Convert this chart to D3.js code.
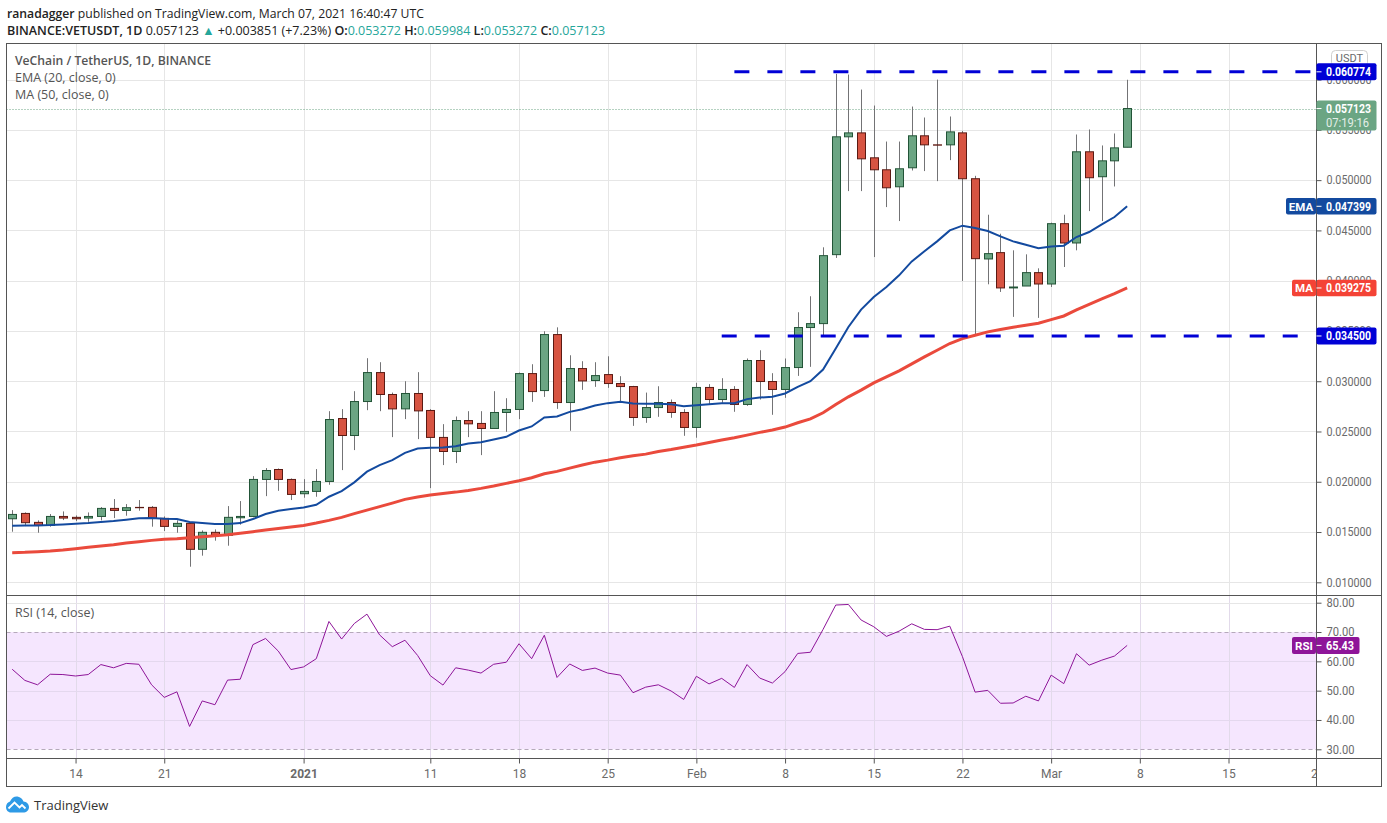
<!DOCTYPE html>
<html>
<head>
<meta charset="utf-8">
<title>VETUSDT</title>
<script src="https://cdn.jsdelivr.net/npm/d3@7"></script>
<style>
  html, body { margin: 0; padding: 0; background: #fff; }
  svg { display: block; }
  text { font-family: "Open Sans", sans-serif; }
  .axis text { font-family: Roboto, sans-serif; font-size: 12px; fill: #6a6a6a; }
  .axis path { display: none; }
  .axis line { stroke: #555; }
</style>
</head>
<body>
<div id="chart"></div>
<script>
// Candles, one a day from 9 Dec 2020 to 7 Mar 2021
var startDate = "2020-12-09";

var opens = [
  0.01632, 0.01685, 0.01596, 0.01566, 0.01655, 0.01646, 0.01639, 0.01655, 0.01735, 0.01715,
  0.01745, 0.01745, 0.01636, 0.01556, 0.01586, 0.01328, 0.01497, 0.01467, 0.01642, 0.01655,
  0.02023, 0.02122, 0.02023, 0.01881, 0.01904, 0.02003, 0.02629, 0.0246, 0.02798, 0.03086,
  0.02868, 0.02725, 0.02878, 0.02709, 0.02441, 0.02301, 0.02609, 0.0258, 0.0253, 0.02689,
  0.02719, 0.03076, 0.02907, 0.03464, 0.02788, 0.03126, 0.03007, 0.03066, 0.02977, 0.02947,
  0.02639, 0.02738, 0.02788, 0.02689, 0.0254, 0.02938, 0.02818, 0.02918, 0.02769, 0.03206,
  0.02997, 0.02918, 0.03136, 0.03534, 0.03573, 0.04259, 0.05431, 0.0547, 0.05222, 0.05103,
  0.04934, 0.05123, 0.05441, 0.05351, 0.05351, 0.0547, 0.05014, 0.04216, 0.04279, 0.03928,
  0.03947, 0.0408, 0.03967, 0.04567, 0.04375, 0.05282, 0.05034, 0.05192, 0.053272,
];
var closes = [
  0.01675, 0.01593, 0.01566, 0.01655, 0.01639, 0.01632, 0.01655, 0.01735, 0.01715, 0.01742,
  0.01742, 0.01636, 0.01556, 0.01586, 0.01328, 0.01497, 0.01467, 0.01646, 0.01655, 0.02023,
  0.02112, 0.02023, 0.01874, 0.01904, 0.02003, 0.02619, 0.0246, 0.02798, 0.03086, 0.02868,
  0.02725, 0.02878, 0.02705, 0.02441, 0.02301, 0.02609, 0.02576, 0.0253, 0.02689, 0.02719,
  0.03076, 0.02897, 0.03464, 0.02788, 0.03126, 0.03003, 0.03056, 0.02977, 0.02947, 0.02639,
  0.02738, 0.02788, 0.02689, 0.0254, 0.02938, 0.02818, 0.02918, 0.02769, 0.03206, 0.02997,
  0.02918, 0.03136, 0.03534, 0.03573, 0.04249, 0.05431, 0.0547, 0.05212, 0.05103, 0.04924,
  0.05113, 0.05441, 0.05351, 0.05348, 0.0548, 0.05014, 0.04219, 0.04269, 0.03928, 0.03937,
  0.0408, 0.03967, 0.04567, 0.04375, 0.05282, 0.05024, 0.05192, 0.05321, 0.057123,
];
var highs = [
  0.01718, 0.01695, 0.01616, 0.01679, 0.01705, 0.01665, 0.01695, 0.01748, 0.01828, 0.01778,
  0.01818, 0.01758, 0.01655, 0.01616, 0.01599, 0.01516, 0.01526, 0.01758, 0.01808, 0.02056,
  0.02136, 0.02132, 0.02033, 0.02026, 0.02126, 0.02702, 0.02722, 0.02901, 0.03229, 0.03189,
  0.02887, 0.03, 0.0309, 0.02722, 0.02573, 0.02649, 0.02702, 0.02702, 0.02901, 0.02831,
  0.03086, 0.03169, 0.03497, 0.03536, 0.03258, 0.03199, 0.03189, 0.03248, 0.0305, 0.02954,
  0.02887, 0.0295, 0.02818, 0.02722, 0.02984, 0.02971, 0.0303, 0.02951, 0.03226, 0.03308,
  0.0308, 0.03226, 0.03686, 0.03845, 0.04332, 0.06057, 0.0605, 0.05901, 0.05742, 0.05384,
  0.05384, 0.05732, 0.05623, 0.06, 0.05633, 0.0549, 0.05043, 0.04656, 0.04467, 0.04302,
  0.04262, 0.04123, 0.04577, 0.04656, 0.05454, 0.05504, 0.05345, 0.05464, 0.059984,
];
var lows = [
  0.01503, 0.01559, 0.01493, 0.01553, 0.01619, 0.01609, 0.01602, 0.01616, 0.01639, 0.01662,
  0.01712, 0.01553, 0.0151, 0.01493, 0.01155, 0.01265, 0.01414, 0.01364, 0.01573, 0.01646,
  0.01857, 0.0191, 0.01818, 0.01841, 0.01851, 0.0197, 0.02116, 0.02315, 0.02712, 0.02702,
  0.02444, 0.02623, 0.02424, 0.01937, 0.02166, 0.02186, 0.02444, 0.02265, 0.02527, 0.02497,
  0.02623, 0.02795, 0.02844, 0.02725, 0.02507, 0.02914, 0.02944, 0.02934, 0.02795, 0.02556,
  0.02586, 0.02646, 0.02636, 0.02457, 0.02438, 0.02772, 0.02785, 0.02696, 0.02755, 0.02818,
  0.02666, 0.02835, 0.03053, 0.03143, 0.03454, 0.04226, 0.04891, 0.04891, 0.04235, 0.04732,
  0.04593, 0.05096, 0.0509, 0.0499, 0.05199, 0.03997, 0.03454, 0.03964, 0.03888, 0.0364,
  0.03947, 0.0363, 0.03937, 0.04136, 0.04302, 0.04692, 0.04593, 0.04937, 0.053272,
];

var ema20 = [
  0.01563, 0.01566, 0.01566, 0.01569, 0.01576, 0.01583, 0.01589, 0.01599, 0.01609, 0.01622,
  0.01636, 0.01639, 0.01632, 0.01629, 0.01599, 0.01589, 0.01579, 0.01579, 0.01589, 0.01629,
  0.01679, 0.01712, 0.01728, 0.01745, 0.01771, 0.01851, 0.01907, 0.01994, 0.021, 0.02166,
  0.02215, 0.02288, 0.02331, 0.02338, 0.02341, 0.02354, 0.02381, 0.02394, 0.02421, 0.02447,
  0.0251, 0.0255, 0.02639, 0.02649, 0.02695, 0.02722, 0.02758, 0.02782, 0.02795, 0.02778,
  0.02775, 0.02775, 0.02772, 0.02752, 0.02762, 0.02772, 0.02782, 0.02782, 0.02822, 0.02838,
  0.02845, 0.02878, 0.02944, 0.03001, 0.03116, 0.03325, 0.0354, 0.03712, 0.03838, 0.03937,
  0.04053, 0.04192, 0.04292, 0.04391, 0.045, 0.04547, 0.04524, 0.04494, 0.04441, 0.04391,
  0.04358, 0.04322, 0.04341, 0.04348, 0.04434, 0.04484, 0.0456, 0.04633, 0.047399,
];
var ma50 = [
  0.01295, 0.01298, 0.01305, 0.01311, 0.01321, 0.01334, 0.01348, 0.01361, 0.01374, 0.01391,
  0.01404, 0.01417, 0.01427, 0.01434, 0.01444, 0.01454, 0.01463, 0.01473, 0.01487, 0.01503,
  0.0152, 0.01536, 0.0155, 0.01566, 0.01589, 0.01616, 0.01646, 0.01683, 0.01718, 0.01753,
  0.01788, 0.01825, 0.01848, 0.01868, 0.01884, 0.01897, 0.01914, 0.01934, 0.01957, 0.01984,
  0.0201, 0.0204, 0.0208, 0.02103, 0.02136, 0.02166, 0.02195, 0.02215, 0.02238, 0.02258,
  0.02275, 0.02301, 0.02321, 0.02344, 0.02365, 0.02391, 0.02415, 0.02438, 0.02464, 0.02491,
  0.02514, 0.02544, 0.02587, 0.02626, 0.02686, 0.02769, 0.02845, 0.02911, 0.02984, 0.03044,
  0.03103, 0.03173, 0.03242, 0.03308, 0.03375, 0.03424, 0.03457, 0.03491, 0.03514, 0.03537,
  0.03557, 0.03577, 0.03613, 0.03649, 0.03709, 0.03765, 0.03818, 0.03871, 0.039275,
];
var rsi14 = [
  57.3, 53.5, 52.0, 55.6, 55.5, 55.0, 55.5, 58.9, 57.8, 59.3,
  59.0, 52.0, 47.7, 49.6, 37.8, 46.5, 45.2, 53.6, 53.9, 65.7,
  67.8, 63.5, 57.2, 58.1, 60.9, 73.6, 67.6, 72.9, 76.1, 69.0,
  65.0, 67.2, 62.0, 55.1, 51.9, 57.8, 57.0, 56.0, 59.0, 59.7,
  66.0, 60.9, 68.9, 54.5, 59.1, 56.9, 57.7, 56.0, 55.3, 49.3,
  51.2, 52.0, 49.9, 47.0, 54.9, 52.3, 54.2, 51.1, 58.9, 54.3,
  52.6, 56.5, 62.7, 63.1, 70.9, 79.2, 79.4, 74.1, 71.8, 68.5,
  70.3, 72.8, 70.9, 70.8, 72.0, 61.6, 49.5, 50.1, 45.7, 45.8,
  48.1, 46.5, 55.3, 52.4, 62.6, 58.7, 60.4, 61.8, 65.43,
];

// Axis ticks
var priceTicks = [0.01, 0.015, 0.02, 0.025, 0.03, 0.035, 0.04, 0.045, 0.05, 0.055, 0.06];
var rsiTicks = [30, 40, 50, 60, 70, 80];
var tickDates = [
  "2020-12-14", "2020-12-21", "2021-01-01", "2021-01-11", "2021-01-18", "2021-01-25", "2021-02-01",
  "2021-02-08", "2021-02-15", "2021-02-22", "2021-03-01", "2021-03-08", "2021-03-15", "2021-03-22",
];
var tickLabels = ["14", "21", "2021", "11", "18", "25", "Feb", "8", "15", "22", "Mar", "8", "15", "22"];

// Horizontal levels drawn on the chart
var levelValues = [0.060774, 0.0345];
var levelLabels = ["0.060774", "0.034500"];
var levelStarts = ["2021-02-04", "2021-02-03"];
var levelEnds = ["2021-03-22", "2021-03-21"];

var svgWidth = 1387;
var svgHeight = 823;

var pane = { left: 6.5, right: 1316.5, top: 43.5, split: 595.5, bottom: 758.5, end: 786.5, outer: 1381.5 };

var upColor = "#6ba583";
var downColor = "#d75442";
var upBorder = "#225437";
var downBorder = "#5b1a13";
var emaColor = "#134a9f";
var maColor = "#ea4a3c";
var rsiColor = "#8e1599";
var levelColor = "#0000d6";
var gridColor = "#e6e6e6";

var parseDay = d3.utcParse("%Y-%m-%d");
var dates = opens.map((d, i) => d3.utcDay.offset(parseDay(startDate), i));

var xScale = d3
  .scaleUtc()
  .domain([parseDay(startDate), parseDay("2021-03-22")])
  .range([12.2, 1317.2]);
var yPrice = d3.scaleLinear().domain([0.01, 0.06]).range([582.3, 79.6]);
var yRsi = d3.scaleLinear().domain([30, 80]).range([749.3, 602.7]);

var svg = d3.select("#chart").append("svg").attr("width", svgWidth).attr("height", svgHeight);

var defs = svg.append("defs");
defs
  .append("clipPath")
  .attr("id", "main-clip")
  .append("rect")
  .attr("x", pane.left)
  .attr("y", pane.top)
  .attr("width", pane.right - pane.left)
  .attr("height", pane.split - pane.top);
defs
  .append("clipPath")
  .attr("id", "time-clip")
  .append("rect")
  .attr("x", pane.left)
  .attr("y", pane.bottom)
  .attr("width", pane.right - pane.left)
  .attr("height", pane.end - pane.bottom);

// RSI band goes under the grid
svg
  .append("rect")
  .attr("x", pane.left)
  .attr("width", pane.right - pane.left)
  .attr("y", yRsi(70))
  .attr("height", yRsi(30) - yRsi(70))
  .attr("fill", "#f5e6fe");

// Grid lines
var tickDays = tickDates.map(parseDay);
var grid = svg.append("g").attr("stroke", gridColor).attr("stroke-width", 1);
grid
  .selectAll(".v-main")
  .data(tickDays.slice(0, 13))
  .enter()
  .append("line")
  .attr("x1", (d) => Math.round(xScale(d)) + 0.5)
  .attr("x2", (d) => Math.round(xScale(d)) + 0.5)
  .attr("y1", pane.top)
  .attr("y2", pane.split);
grid
  .selectAll(".v-rsi")
  .data(tickDays.slice(0, 13))
  .enter()
  .append("line")
  .attr("x1", (d) => Math.round(xScale(d)) + 0.5)
  .attr("x2", (d) => Math.round(xScale(d)) + 0.5)
  .attr("y1", pane.split)
  .attr("y2", pane.bottom)
  .attr("stroke", "#e2daea");
grid
  .selectAll(".h-main")
  .data(priceTicks)
  .enter()
  .append("line")
  .attr("x1", pane.left)
  .attr("x2", pane.right)
  .attr("y1", (d) => Math.round(yPrice(d)) + 0.5)
  .attr("y2", (d) => Math.round(yPrice(d)) + 0.5);
grid
  .selectAll(".h-rsi")
  .data(rsiTicks.filter((d) => d !== 30 && d !== 70))
  .enter()
  .append("line")
  .attr("x1", pane.left)
  .attr("x2", pane.right)
  .attr("y1", (d) => Math.round(yRsi(d)) + 0.5)
  .attr("y2", (d) => Math.round(yRsi(d)) + 0.5)
  .attr("stroke", (d) => (d === 80 ? gridColor : "#e4d8ee"));

// RSI band borders
svg
  .selectAll(".band-line")
  .data([70, 30])
  .enter()
  .append("line")
  .attr("x1", pane.left)
  .attr("x2", pane.right)
  .attr("y1", (d) => Math.round(yRsi(d)) + 0.5)
  .attr("y2", (d) => Math.round(yRsi(d)) + 0.5)
  .attr("stroke", "#b5a9ba")
  .attr("stroke-dasharray", "4,3");

// Last price dotted line
svg
  .append("line")
  .attr("x1", pane.left)
  .attr("x2", pane.right)
  .attr("y1", Math.round(yPrice(0.057123)) + 0.5)
  .attr("y2", Math.round(yPrice(0.057123)) + 0.5)
  .attr("stroke", upColor)
  .attr("stroke-dasharray", "1,2");

var mainGroup = svg.append("g").attr("clip-path", "url(#main-clip)");

// Wicks
mainGroup
  .selectAll(".wick")
  .data(dates)
  .enter()
  .append("line")
  .attr("x1", (d) => Math.round(xScale(d)) + 0.5)
  .attr("x2", (d) => Math.round(xScale(d)) + 0.5)
  .attr("y1", (d, i) => yPrice(highs[i]))
  .attr("y2", (d, i) => yPrice(lows[i]))
  .attr("stroke", "#737375");

// Bodies
mainGroup
  .selectAll(".body")
  .data(dates)
  .enter()
  .append("rect")
  .attr("x", (d) => Math.round(xScale(d)) - 3.5)
  .attr("width", 8)
  .attr("y", (d, i) => yPrice(Math.max(opens[i], closes[i])))
  .attr("height", (d, i) => Math.abs(yPrice(opens[i]) - yPrice(closes[i])))
  .attr("fill", (d, i) => (closes[i] >= opens[i] ? upColor : downColor))
  .attr("stroke", (d, i) => (closes[i] >= opens[i] ? upBorder : downBorder));

// EMA and MA lines
var priceLine = d3
  .line()
  .x((d, i) => xScale(dates[i]))
  .y((d) => yPrice(d));

mainGroup
  .append("path")
  .datum(ma50)
  .attr("d", priceLine)
  .attr("fill", "none")
  .attr("stroke", maColor)
  .attr("stroke-width", 3);

mainGroup
  .append("path")
  .datum(ema20)
  .attr("d", priceLine)
  .attr("fill", "none")
  .attr("stroke", emaColor)
  .attr("stroke-width", 2);

// Dashed levels
svg
  .selectAll(".level")
  .data(levelValues)
  .enter()
  .append("line")
  .attr("x1", (d, i) => xScale(parseDay(levelStarts[i])))
  .attr("x2", (d, i) => xScale(parseDay(levelEnds[i])))
  .attr("y1", (d) => yPrice(d))
  .attr("y2", (d) => yPrice(d))
  .attr("stroke", levelColor)
  .attr("stroke-width", 3)
  .attr("stroke-dasharray", "15,18");

// RSI line
var rsiLine = d3
  .line()
  .x((d, i) => xScale(dates[i]))
  .y((d) => yRsi(d));

svg
  .append("path")
  .datum(rsi14)
  .attr("d", rsiLine)
  .attr("fill", "none")
  .attr("stroke", rsiColor)
  .attr("stroke-width", 1);

// Frame
var frame = svg.append("g").attr("stroke", "#555").attr("stroke-width", 1);
frame
  .append("rect")
  .attr("x", pane.left)
  .attr("y", pane.top)
  .attr("width", pane.outer - pane.left)
  .attr("height", pane.end - pane.top)
  .attr("fill", "none");
frame.append("line").attr("x1", pane.right).attr("x2", pane.right).attr("y1", pane.top).attr("y2", pane.end);
frame.append("line").attr("x1", pane.left).attr("x2", pane.outer).attr("y1", pane.split).attr("y2", pane.split);
frame.append("line").attr("x1", pane.left).attr("x2", pane.outer).attr("y1", pane.bottom).attr("y2", pane.bottom);

// Axes
svg
  .append("g")
  .attr("class", "axis")
  .attr("transform", `translate(${pane.right}, 0)`)
  .call(d3.axisRight(yPrice).tickValues(priceTicks).tickFormat(d3.format(".6f")).tickSize(5).tickPadding(5))
  .selectAll("text")
  .attr("textLength", 45)
  .attr("lengthAdjust", "spacingAndGlyphs");

svg
  .append("g")
  .attr("class", "axis")
  .attr("transform", `translate(${pane.right}, 0)`)
  .call(d3.axisRight(yRsi).tickValues(rsiTicks).tickFormat(d3.format(".2f")).tickSize(5).tickPadding(5))
  .selectAll("text")
  .attr("textLength", 28)
  .attr("lengthAdjust", "spacingAndGlyphs");

svg
  .append("g")
  .attr("clip-path", "url(#time-clip)")
  .append("g")
  .attr("class", "axis")
  .attr("transform", `translate(0, ${pane.bottom})`)
  .call(
    d3
      .axisBottom(xScale)
      .tickValues(tickDays)
      .tickFormat((d, i) => tickLabels[i])
      .tickSize(5)
      .tickPadding(6)
  )
  .selectAll("text")
  .style("font-weight", (d, i) => (tickLabels[i] === "2021" ? "bold" : "normal"));

// USDT button, partly under the level box
svg
  .append("rect")
  .attr("x", 1331.5)
  .attr("y", 50.5)
  .attr("width", 36)
  .attr("height", 16)
  .attr("rx", 4)
  .attr("fill", "#fff")
  .attr("stroke", "#cfcfcf");
svg
  .append("text")
  .attr("x", 1349.5)
  .attr("y", 62)
  .attr("text-anchor", "middle")
  .attr("fill", "#6a6a6a")
  .style("font-family", "Roboto, sans-serif")
  .style("font-size", "11px")
  .text("USDT");

// Price labels on the right, boxes sit on the axis
function priceBox(value, scale, text, color, height) {
  var y = scale(value);
  var box = svg.append("g");
  box
    .append("rect")
    .attr("x", pane.right)
    .attr("y", y - height / 2)
    .attr("width", 60)
    .attr("height", height)
    .attr("rx", 2)
    .attr("fill", color);
  box
    .append("line")
    .attr("x1", pane.right)
    .attr("x2", pane.right + 5)
    .attr("y1", y)
    .attr("y2", y)
    .attr("stroke", "#fff");
  box
    .append("text")
    .attr("x", pane.right + 9.5)
    .attr("y", y + 4.3)
    .attr("fill", "#fff")
    .attr("textLength", 45)
    .attr("lengthAdjust", "spacingAndGlyphs")
    .style("font-family", "Roboto, sans-serif")
    .style("font-size", "12px")
    .style("font-weight", "bold")
    .text(text);
}

function nameBox(value, scale, text, color, width, height) {
  var y = scale(value);
  svg
    .append("rect")
    .attr("x", pane.right - 0.5 - width)
    .attr("y", y - height / 2)
    .attr("width", width)
    .attr("height", height)
    .attr("rx", 2)
    .attr("fill", color);
  svg
    .append("text")
    .attr("x", pane.right - 0.5 - width / 2)
    .attr("y", y + 4.3)
    .attr("text-anchor", "middle")
    .attr("fill", "#fff")
    .style("font-family", "Roboto, sans-serif")
    .style("font-size", "11.5px")
    .style("font-weight", "bold")
    .text(text);
}

levelValues.forEach(function (d, i) {
  priceBox(d, yPrice, levelLabels[i], levelColor, 17);
});
priceBox(0.047399, yPrice, "0.047399", emaColor, 16.5);
nameBox(0.047399, yPrice, "EMA", emaColor, 30, 16.5);
priceBox(0.039275, yPrice, "0.039275", "#f44336", 16.5);
nameBox(0.039275, yPrice, "MA", "#f44336", 24, 16.5);

// Last price box has the countdown under the price
var lastY = yPrice(0.057123);
svg
  .append("rect")
  .attr("x", pane.right)
  .attr("y", lastY - 8)
  .attr("width", 60)
  .attr("height", 30)
  .attr("rx", 2)
  .attr("fill", upColor);
svg
  .append("line")
  .attr("x1", pane.right)
  .attr("x2", pane.right + 5)
  .attr("y1", lastY)
  .attr("y2", lastY)
  .attr("stroke", "#fff");
svg
  .append("text")
  .attr("x", pane.right + 9.5)
  .attr("y", lastY + 4)
  .attr("fill", "#fff")
  .attr("textLength", 45)
  .attr("lengthAdjust", "spacingAndGlyphs")
  .style("font-family", "Roboto, sans-serif")
  .style("font-size", "12px")
  .style("font-weight", "bold")
  .text("0.057123");
svg
  .append("text")
  .attr("x", pane.right + 9.5)
  .attr("y", lastY + 18)
  .attr("fill", "#e4efe8")
  .attr("textLength", 43)
  .attr("lengthAdjust", "spacingAndGlyphs")
  .style("font-family", "Roboto, sans-serif")
  .style("font-size", "12px")
  .text("07:19:16");

// RSI value box is narrower than the price ones
var rsiY = yRsi(65.43);
svg
  .append("rect")
  .attr("x", pane.right)
  .attr("y", rsiY - 8.5)
  .attr("width", 43)
  .attr("height", 17)
  .attr("rx", 2)
  .attr("fill", rsiColor);
svg
  .append("line")
  .attr("x1", pane.right)
  .attr("x2", pane.right + 5)
  .attr("y1", rsiY)
  .attr("y2", rsiY)
  .attr("stroke", "#fff");
svg
  .append("text")
  .attr("x", pane.right + 9.5)
  .attr("y", rsiY + 4.3)
  .attr("fill", "#fff")
  .attr("textLength", 28)
  .attr("lengthAdjust", "spacingAndGlyphs")
  .style("font-family", "Roboto, sans-serif")
  .style("font-size", "12px")
  .style("font-weight", "bold")
  .text("65.43");
nameBox(65.43, yRsi, "RSI", rsiColor, 24, 17);

// Legend inside the chart
var legendRows = ["VeChain / TetherUS, 1D, BINANCE", "EMA (20, close, 0)", "MA (50, close, 0)"];
svg
  .selectAll(".legend")
  .data(legendRows)
  .enter()
  .append("text")
  .attr("x", 15)
  .attr("y", (d, i) => 64.5 + i * 17)
  .attr("fill", "#555")
  .style("font-size", (d, i) => (i === 0 ? "12.2px" : "12.5px"))
  .style("font-weight", (d, i) => (i === 0 ? 600 : 400))
  .text((d) => d);

svg
  .append("text")
  .attr("x", 15)
  .attr("y", 616.5)
  .attr("fill", "#555")
  .style("font-size", "12.5px")
  .text("RSI (14, close)");

// Header lines
var header1 = svg
  .append("text")
  .attr("x", 7)
  .attr("y", 17.5)
  .attr("fill", "#222")
  .style("font-size", "12.2px");
header1.append("tspan").style("font-weight", 600).text("ranadagger");
header1.append("tspan").text(" published on TradingView.com, March 07, 2021 16:40:47 UTC");

var teal = "#26a69a";
var headerNames = ["O", "H", "L", "C"];
var headerValues = ["0.053272", "0.059984", "0.053272", "0.057123"];
var header2 = svg
  .append("text")
  .attr("x", 7)
  .attr("y", 34.5)
  .attr("fill", "#222")
  .style("font-size", "12.5px");
header2.append("tspan").style("font-weight", 600).text("BINANCE:VETUSDT, 1D");
header2.append("tspan").text(" 0.057123 ");
header2.append("tspan").attr("fill", teal).text("▲");
header2.append("tspan").text(" +0.003851 (+7.23%) ");
headerNames.forEach(function (name, i) {
  header2.append("tspan").style("font-weight", 600).text(name + ":");
  header2.append("tspan").attr("fill", teal).text(headerValues[i] + " ");
});

// TradingView mark at the bottom
svg
  .append("path")
  .attr(
    "d",
    "M6 807c0-3 2-5 4-5.500C11.500 798 14.500 796 17.500 796.500c3 .5 5 2.500 6 5 3 .3 5.500 2.500 5.500 5.500 0 3.500-2.500 5.500-6 5.500H11c-3 0-5-2.500-5-5.500z"
  )
  .attr("fill", "#2e9ae6");
svg
  .append("path")
  .attr("d", "M8.500 808.500l6-6 5 5 2.500-2.500 3.500 3.500")
  .attr("fill", "none")
  .attr("stroke", "#fff")
  .attr("stroke-width", 1.8);
svg
  .append("text")
  .attr("x", 34)
  .attr("y", 809.5)
  .attr("fill", "#333")
  .style("font-size", "13px")
  .text("TradingView");
</script>
</body>
</html>
